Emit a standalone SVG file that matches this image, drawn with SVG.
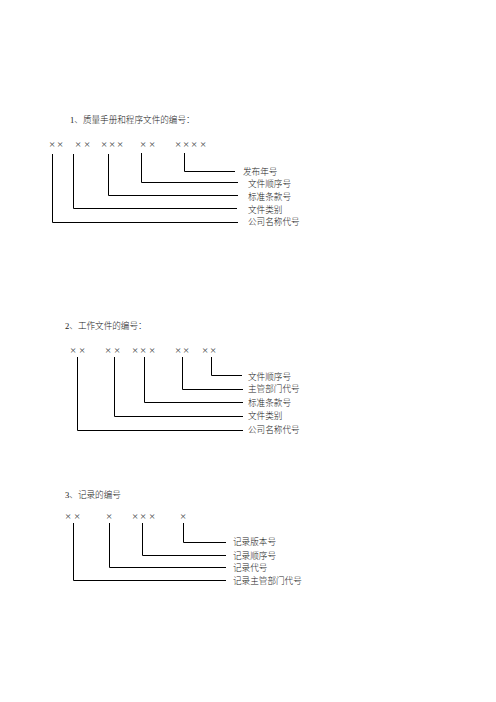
<svg xmlns="http://www.w3.org/2000/svg" width="496" height="702" viewBox="0 0 496 702">
<style>
.t{font-family:"Liberation Serif","Noto Sans CJK SC",serif;font-size:8.6px;font-weight:300;fill:#1a1a1a}
.x{font-family:"Liberation Serif",serif;font-size:11px;fill:#444;text-anchor:middle}
.c{fill:none;stroke:#000;stroke-width:1}
</style>
<rect width="496" height="702" fill="#fff"/>
<g id="section1">
<text class="t" x="70" y="123">1、质量手册和程序文件的编号：</text>
<g id="s1-codes">
<text class="x" x="52 60" y="147.5">××</text>
<text class="x" x="78 87" y="147.5">××</text>
<text class="x" x="104 112 120" y="147.5">×××</text>
<text class="x" x="143 152" y="147.5">××</text>
<text class="x" x="178 186 194 203" y="147.5">××××</text>
</g>
<g id="s1-labels">
<text class="t" x="243" y="175">发布年号</text>
<text class="t" x="248" y="187">文件顺序号</text>
<text class="t" x="248" y="200">标准条款号</text>
<text class="t" x="248" y="213">文件类别</text>
<text class="t" x="248" y="225">公司名称代号</text>
</g>
<g id="s1-connectors">
<path class="c" d="M184.5 153V171.5H235"/>
<path class="c" d="M141.5 153V182.5H238"/>
<path class="c" d="M108.5 154V195.5H238"/>
<path class="c" d="M73.5 154V208.5H237"/>
<path class="c" d="M52.5 154V222.5H238"/>
</g>
</g>
<g id="section2">
<text class="t" x="65" y="329">2、工作文件的编号：</text>
<g id="s2-codes">
<text class="x" x="73 82" y="353.5">××</text>
<text class="x" x="108 117" y="353.5">××</text>
<text class="x" x="135 143 152" y="353.5">×××</text>
<text class="x" x="178 186" y="353.5">××</text>
<text class="x" x="205 213" y="353.5">××</text>
</g>
<g id="s2-labels">
<text class="t" x="248" y="380">文件顺序号</text>
<text class="t" x="248" y="392">主管部门代号</text>
<text class="t" x="248" y="406">标准条款号</text>
<text class="t" x="248" y="419">文件类别</text>
<text class="t" x="248" y="433">公司名称代号</text>
</g>
<g id="s2-connectors">
<path class="c" d="M211.5 357V375.5H242"/>
<path class="c" d="M182.5 357V389.5H243"/>
<path class="c" d="M144.5 357V402.5H243"/>
<path class="c" d="M114.5 357V416.5H243"/>
<path class="c" d="M77.5 357V430.5H243"/>
</g>
</g>
<g id="section3">
<text class="t" x="65" y="498">3、记录的编号</text>
<g id="s3-codes">
<text class="x" x="68 77" y="519.5">××</text>
<text class="x" x="109" y="519.5">×</text>
<text class="x" x="135 143 152" y="519.5">×××</text>
<text class="x" x="183" y="519.5">×</text>
</g>
<g id="s3-labels">
<text class="t" x="233" y="545">记录版本号</text>
<text class="t" x="233" y="559">记录顺序号</text>
<text class="t" x="233" y="571">记录代号</text>
<text class="t" x="233" y="584">记录主管部门代号</text>
</g>
<g id="s3-connectors">
<path class="c" d="M183.5 523V542.5H226"/>
<path class="c" d="M142.5 523V555.5H226"/>
<path class="c" d="M109.5 523V567.5H226"/>
<path class="c" d="M73.5 523V580.5H226"/>
</g>
</g>
</svg>
